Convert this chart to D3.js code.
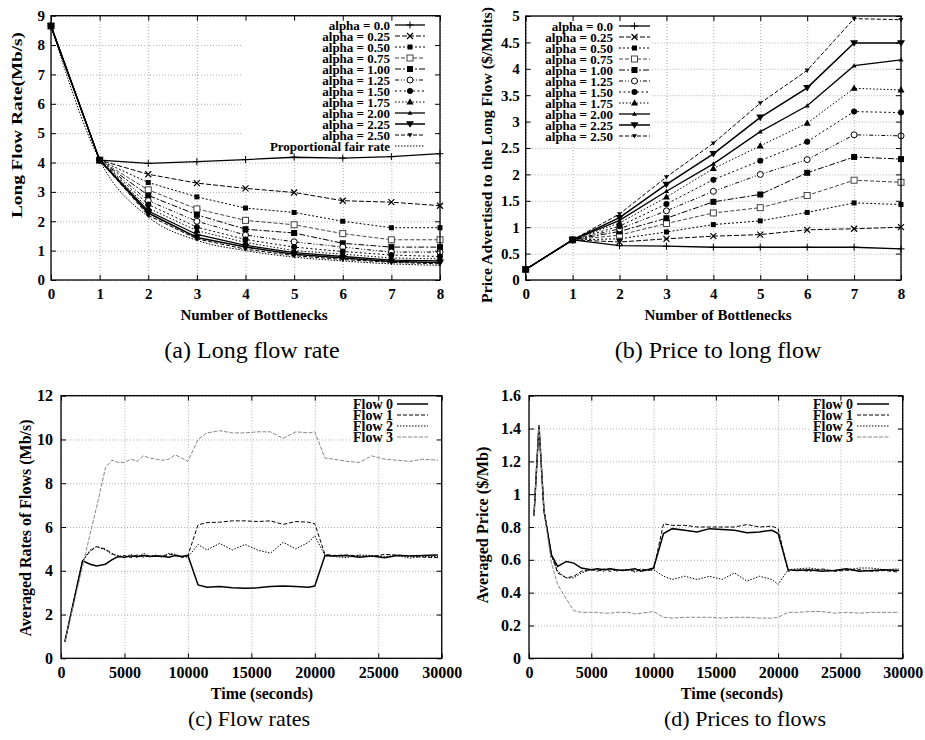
<!DOCTYPE html>
<html>
<head>
<meta charset="utf-8">
<script src="https://cdn.jsdelivr.net/npm/d3@7"></script>
<style>
  body { margin: 0; background: #fff; }
  svg { display: block; font-family: "Liberation Serif", "Times New Roman", serif; }
</style>
</head>
<body>
<svg id="chart" width="925" height="740"></svg>
<script>
// ---- data: panels (a) and (b), x = number of bottlenecks ----
const bottlenecks = [0, 1, 2, 3, 4, 5, 6, 7, 8];
const alphaLabels = ['alpha = 0.0', 'alpha = 0.25', 'alpha = 0.50', 'alpha = 0.75', 'alpha = 1.00',
  'alpha = 1.25', 'alpha = 1.50', 'alpha = 1.75', 'alpha = 2.00', 'alpha = 2.25', 'alpha = 2.50'];
const propFairLabel = 'Proportional fair rate';

// long flow rate (Mb/s)
const rateA000 = [8.65, 4.08, 3.97, 4.03, 4.10, 4.18, 4.15, 4.20, 4.30];
const rateA025 = [8.65, 4.08, 3.60, 3.30, 3.12, 2.98, 2.70, 2.65, 2.53];
const rateA050 = [8.65, 4.08, 3.32, 2.83, 2.45, 2.30, 2.00, 1.78, 1.78];
const rateA075 = [8.65, 4.08, 3.07, 2.42, 2.03, 1.88, 1.58, 1.37, 1.37];
const rateA100 = [8.65, 4.08, 2.88, 2.22, 1.73, 1.60, 1.25, 1.12, 1.12];
const rateA125 = [8.65, 4.08, 2.70, 2.00, 1.53, 1.30, 1.12, 0.95, 0.95];
const rateA150 = [8.65, 4.08, 2.57, 1.80, 1.38, 1.12, 0.97, 0.85, 0.80];
const rateA175 = [8.65, 4.08, 2.45, 1.68, 1.28, 1.00, 0.88, 0.75, 0.72];
const rateA200 = [8.65, 4.08, 2.35, 1.55, 1.18, 0.93, 0.80, 0.68, 0.65];
const rateA225 = [8.65, 4.08, 2.28, 1.45, 1.12, 0.88, 0.75, 0.63, 0.60];
const rateA250 = [8.65, 4.08, 2.20, 1.40, 1.05, 0.83, 0.70, 0.60, 0.55];
const ratePropFair = [8.65, 4.08, 2.15, 1.35, 1.00, 0.78, 0.65, 0.55, 0.50];

// price advertised to the long flow ($/Mbits)
const priceA000 = [0.20, 0.76, 0.65, 0.64, 0.62, 0.62, 0.62, 0.62, 0.59];
const priceA025 = [0.20, 0.76, 0.72, 0.78, 0.83, 0.86, 0.95, 0.97, 1.00];
const priceA050 = [0.20, 0.76, 0.78, 0.91, 1.05, 1.12, 1.28, 1.46, 1.43];
const priceA075 = [0.20, 0.76, 0.85, 1.07, 1.27, 1.37, 1.60, 1.89, 1.85];
const priceA100 = [0.20, 0.76, 0.92, 1.17, 1.48, 1.62, 2.03, 2.33, 2.29];
const priceA125 = [0.20, 0.76, 0.97, 1.31, 1.68, 2.00, 2.28, 2.75, 2.73];
const priceA150 = [0.20, 0.76, 1.02, 1.44, 1.90, 2.26, 2.62, 3.19, 3.17];
const priceA175 = [0.20, 0.76, 1.08, 1.57, 2.11, 2.54, 2.97, 3.63, 3.60];
const priceA200 = [0.20, 0.76, 1.13, 1.68, 2.20, 2.81, 3.30, 4.06, 4.17];
const priceA225 = [0.20, 0.76, 1.18, 1.81, 2.39, 3.08, 3.64, 4.49, 4.49];
const priceA250 = [0.20, 0.76, 1.25, 1.95, 2.59, 3.35, 3.97, 4.95, 4.93];

// ---- data: panel (c), flow rates over time ----
const flowLabels = ['Flow 0', 'Flow 1', 'Flow 2', 'Flow 3'];
const timeC = [300, 1700, 2300, 2800, 3500, 4000, 4500, 5000, 5500, 6000, 6500, 7000, 7500, 8000,
  8500, 9000, 9500, 10000, 10800, 11500, 12500, 13500, 14500, 15500, 16500, 17500, 18500, 19500,
  20000, 20800, 21500, 22500, 23500, 24500, 25500, 26500, 27500, 28500, 29700];
const rateFlow0 = [0.75, 4.45, 4.30, 4.22, 4.30, 4.50, 4.65, 4.62, 4.68, 4.65, 4.70, 4.65, 4.68, 4.66,
  4.62, 4.70, 4.65, 4.70, 3.35, 3.25, 3.28, 3.22, 3.20, 3.22, 3.28, 3.30, 3.28, 3.25,
  3.30, 4.70, 4.68, 4.70, 4.62, 4.68, 4.60, 4.70, 4.68, 4.70, 4.72];
const rateFlow1 = [0.75, 4.45, 4.90, 5.10, 5.00, 4.80, 4.65, 4.70, 4.60, 4.72, 4.62, 4.70, 4.65, 4.68,
  4.75, 4.72, 4.60, 4.70, 6.10, 6.20, 6.22, 6.28, 6.28, 6.25, 6.28, 6.12, 6.25, 6.22,
  6.15, 4.75, 4.70, 4.72, 4.68, 4.65, 4.75, 4.72, 4.68, 4.62, 4.60];
const rateFlow2 = [0.75, 4.45, 4.95, 5.10, 4.95, 4.75, 4.70, 4.60, 4.75, 4.60, 4.80, 4.65, 4.72, 4.60,
  4.80, 4.75, 4.65, 4.62, 5.20, 4.95, 5.25, 4.95, 5.20, 4.95, 4.80, 5.30, 5.00, 5.30,
  5.60, 4.70, 4.65, 4.60, 4.72, 4.70, 4.65, 4.70, 4.58, 4.65, 4.65];
const rateFlow3 = [0.75, 4.20, 5.70, 6.90, 8.70, 9.05, 8.95, 8.95, 9.10, 9.00, 9.25, 9.15, 9.10, 9.05,
  9.10, 9.30, 9.15, 9.00, 10.00, 10.30, 10.40, 10.30, 10.30, 10.35, 10.35, 10.05, 10.35, 10.30,
  10.35, 9.15, 9.10, 9.00, 8.95, 9.25, 9.10, 9.05, 9.00, 9.10, 9.05];

// ---- data: panel (d), prices over time ----
const timeD = [400, 800, 1200, 1800, 2300, 3000, 3600, 4200, 5000, 5500, 6000, 6500, 7000, 7500,
  8000, 8500, 9000, 9500, 10000, 10800, 11500, 12500, 13500, 14500, 15500, 16500, 17500, 18500,
  19500, 20000, 20800, 21500, 22500, 23500, 24500, 25500, 26500, 27500, 28500, 29700];
const priceFlow0 = [0.87, 1.42, 0.90, 0.63, 0.56, 0.59, 0.58, 0.55, 0.54, 0.545, 0.54, 0.545, 0.54, 0.535,
  0.54, 0.545, 0.53, 0.54, 0.55, 0.76, 0.79, 0.78, 0.77, 0.79, 0.785, 0.78, 0.765, 0.77,
  0.78, 0.76, 0.54, 0.535, 0.54, 0.53, 0.535, 0.545, 0.53, 0.535, 0.54, 0.535];
const priceFlow1 = [0.87, 1.42, 0.90, 0.63, 0.52, 0.49, 0.50, 0.53, 0.54, 0.53, 0.545, 0.53, 0.54, 0.535,
  0.54, 0.53, 0.545, 0.535, 0.54, 0.82, 0.81, 0.81, 0.80, 0.80, 0.80, 0.80, 0.815, 0.80,
  0.805, 0.79, 0.53, 0.54, 0.53, 0.545, 0.53, 0.535, 0.54, 0.53, 0.535, 0.525];
const priceFlow2 = [0.87, 1.42, 0.90, 0.63, 0.53, 0.49, 0.49, 0.52, 0.54, 0.54, 0.53, 0.55, 0.53, 0.54,
  0.54, 0.525, 0.54, 0.535, 0.54, 0.50, 0.48, 0.50, 0.48, 0.50, 0.48, 0.52, 0.47, 0.50,
  0.48, 0.45, 0.54, 0.545, 0.55, 0.54, 0.535, 0.54, 0.55, 0.55, 0.54, 0.545];
const priceFlow3 = [0.87, 1.42, 0.90, 0.58, 0.45, 0.36, 0.29, 0.28, 0.28, 0.28, 0.275, 0.275, 0.28, 0.28,
  0.28, 0.27, 0.275, 0.28, 0.285, 0.25, 0.245, 0.25, 0.25, 0.25, 0.245, 0.25, 0.25, 0.245,
  0.245, 0.25, 0.28, 0.28, 0.285, 0.285, 0.275, 0.28, 0.275, 0.28, 0.28, 0.28];

// ---- tick values ----
const ticksBottleneck = [0, 1, 2, 3, 4, 5, 6, 7, 8];
const ticksRateA = [0, 1, 2, 3, 4, 5, 6, 7, 8, 9];
const ticksPriceB = [0, 0.5, 1, 1.5, 2, 2.5, 3, 3.5, 4, 4.5, 5];
const ticksTime = [0, 5000, 10000, 15000, 20000, 25000, 30000];
const ticksRateC = [0, 2, 4, 6, 8, 10, 12];
const ticksPriceD = [0, 0.2, 0.4, 0.6, 0.8, 1, 1.2, 1.4, 1.6];

// ---- styles ----
const alphaStyles = [
  {dash: null, marker: 'plus', width: 1.3},
  {dash: '5,2', marker: 'cross'},
  {dash: '2,2', marker: 'star'},
  {dash: '4,2', marker: 'opensq', color: '#444'},
  {dash: '6,2,2,2', marker: 'sq'},
  {dash: '4,2,1,2,1,2', marker: 'opencircle'},
  {dash: '2,2.5', marker: 'circle'},
  {dash: '1.5,2', marker: 'tri'},
  {dash: null, marker: 'smalltri', width: 1.3},
  {dash: null, marker: 'invtri', width: 1.5},
  {dash: '4,2', marker: 'smallinvtri'}
];
const flowStyles = [
  {dash: null, width: 1.5, color: '#000'},
  {dash: '4,2', width: 1, color: '#000'},
  {dash: '1.5,1.5', width: 1, color: '#000'},
  {dash: '4,1.5', width: 1, color: '#888'}
];

const svg = d3.select('#chart');

function drawMarker(g, type, cx, cy, color) {
  const m = g.append('g').attr('transform', `translate(${cx},${cy})`);
  const c = color || '#000';
  switch (type) {
    case 'plus':
      m.append('path').attr('d', 'M-3.5,0H3.5M0,-3.5V3.5').attr('stroke', c).attr('stroke-width', 1); break;
    case 'cross':
      m.append('path').attr('d', 'M-3,-3L3,3M-3,3L3,-3').attr('stroke', c).attr('stroke-width', 1.2); break;
    case 'star':
      m.append('rect').attr('x', -2.5).attr('y', -2.5).attr('width', 5).attr('height', 5).attr('fill', c); break;
    case 'opensq':
      m.append('rect').attr('x', -3).attr('y', -3).attr('width', 6).attr('height', 6)
        .attr('fill', '#fff').attr('stroke', c).attr('stroke-width', 1); break;
    case 'sq':
      m.append('rect').attr('x', -3).attr('y', -3).attr('width', 6).attr('height', 6).attr('fill', c); break;
    case 'opencircle':
      m.append('circle').attr('r', 3).attr('fill', '#fff').attr('stroke', c).attr('stroke-width', 1); break;
    case 'circle':
      m.append('circle').attr('r', 3).attr('fill', c); break;
    case 'tri':
      m.append('path').attr('d', 'M0,-3.8L3.5,2.5H-3.5Z').attr('fill', c); break;
    case 'smalltri':
      m.append('path').attr('d', 'M0,-2.5L2.5,1.8H-2.5Z').attr('fill', c); break;
    case 'invtri':
      m.append('path').attr('d', 'M0,3.8L4,-2.8H-4Z').attr('fill', c); break;
    case 'smallinvtri':
      m.append('path').attr('d', 'M0,2.5L2.5,-1.8H-2.5Z').attr('fill', c); break;
  }
}

function drawPanel(cfg) {
  const g = svg.append('g');
  const x = d3.scaleLinear().domain(cfg.xDomain).range([cfg.left, cfg.right]);
  const y = d3.scaleLinear().domain(cfg.yDomain).range([cfg.bottom, cfg.top]);
  const w = cfg.right - cfg.left;
  const h = cfg.bottom - cfg.top;

  // grid
  const grid = g.append('g');
  grid.append('g').attr('transform', `translate(0,${cfg.bottom})`)
    .call(d3.axisBottom(x).tickValues(cfg.xTicks).tickSize(-h).tickFormat(''))
    .call(s => s.select('.domain').remove());
  grid.append('g').attr('transform', `translate(${cfg.left},0)`)
    .call(d3.axisLeft(y).tickValues(cfg.yTicks).tickSize(-w).tickFormat(''))
    .call(s => s.select('.domain').remove());
  grid.selectAll('line').attr('stroke', '#999').attr('stroke-width', 0.8).attr('stroke-dasharray', '1,2');

  // legend background hides grid
  g.append('rect')
    .attr('x', cfg.legend.bg[0]).attr('y', cfg.legend.bg[1])
    .attr('width', cfg.legend.bg[2]).attr('height', cfg.legend.bg[3])
    .attr('fill', '#fff');

  // series
  cfg.series.forEach(s => {
    const line = d3.line().x(d => x(d[0])).y(d => y(d[1]));
    if (s.smooth) line.curve(d3.curveMonotoneX);
    const pts = s.xs.map((xv, i) => [xv, s.ys[i]]);
    g.append('path').datum(pts)
      .attr('d', line)
      .attr('fill', 'none')
      .attr('stroke', s.style.color || '#000')
      .attr('stroke-width', s.style.width || 1)
      .attr('stroke-dasharray', s.style.dash);
    if (s.style.marker) {
      pts.forEach(p => drawMarker(g, s.style.marker, x(p[0]), y(p[1]), s.style.color));
    }
  });

  // border
  g.append('rect').attr('x', cfg.left).attr('y', cfg.top).attr('width', w).attr('height', h)
    .attr('fill', 'none').attr('stroke', '#000').attr('stroke-width', 1.3);

  // axes (inward ticks, mirrored)
  const styleTicks = s => {
    s.select('.domain').remove();
    s.selectAll('line').attr('stroke', '#000').attr('stroke-width', 1);
    s.attr('font-family', null).attr('font-size', cfg.tickSize).attr('font-weight', 'bold');
    s.selectAll('text').attr('fill', '#000');
  };
  g.append('g').attr('transform', `translate(0,${cfg.bottom})`)
    .call(d3.axisBottom(x).tickValues(cfg.xTicks).tickSizeInner(-5).tickSizeOuter(0).tickPadding(8)
      .tickFormat(d => String(d)))
    .call(styleTicks);
  g.append('g').attr('transform', `translate(0,${cfg.top})`)
    .call(d3.axisTop(x).tickValues(cfg.xTicks).tickSizeInner(-5).tickSizeOuter(0).tickFormat(''))
    .call(styleTicks);
  g.append('g').attr('transform', `translate(${cfg.left},0)`)
    .call(d3.axisLeft(y).tickValues(cfg.yTicks).tickSizeInner(-5).tickSizeOuter(0).tickPadding(cfg.yPad)
      .tickFormat(d => String(d)))
    .call(styleTicks);
  g.append('g').attr('transform', `translate(${cfg.right},0)`)
    .call(d3.axisRight(y).tickValues(cfg.yTicks).tickSizeInner(-5).tickSizeOuter(0).tickFormat(''))
    .call(styleTicks);

  // axis titles
  g.append('text').attr('x', cfg.xlabel.x).attr('y', cfg.xlabel.y)
    .attr('text-anchor', 'middle').attr('font-weight', 'bold').attr('font-size', cfg.labelSize)
    .text(cfg.xlabel.text);
  g.append('text')
    .attr('transform', `translate(${cfg.ylabel.x},${cfg.ylabel.y}) rotate(-90)`)
    .attr('text-anchor', 'middle').attr('dominant-baseline', 'central')
    .attr('font-weight', 'bold').attr('font-size', cfg.labelSize)
    .attr('textLength', cfg.ylabel.len).attr('lengthAdjust', 'spacingAndGlyphs')
    .text(cfg.ylabel.text);

  // legend
  const L = cfg.legend;
  L.entries.forEach((e, i) => {
    const ry = L.y0 + i * L.dy;
    g.append('text').attr('x', L.textRight).attr('y', ry)
      .attr('text-anchor', 'end').attr('dominant-baseline', 'central')
      .attr('font-weight', 'bold').attr('font-size', L.fontSize)
      .text(e.label);
    g.append('line').attr('x1', L.lineX0).attr('x2', L.lineX1).attr('y1', ry).attr('y2', ry)
      .attr('stroke', e.style.color || '#000')
      .attr('stroke-width', e.style.width || 1)
      .attr('stroke-dasharray', e.style.dash);
    if (e.style.marker) drawMarker(g, e.style.marker, (L.lineX0 + L.lineX1) / 2, ry, e.style.color);
  });

  // caption
  svg.append('text').attr('x', cfg.caption.x).attr('y', cfg.caption.y)
    .attr('text-anchor', 'middle').attr('dominant-baseline', 'central')
    .attr('font-size', cfg.caption.size)
    .text(cfg.caption.text);
}

const rateSeriesA = [rateA000, rateA025, rateA050, rateA075, rateA100, rateA125,
  rateA150, rateA175, rateA200, rateA225, rateA250];
const priceSeriesB = [priceA000, priceA025, priceA050, priceA075, priceA100, priceA125,
  priceA150, priceA175, priceA200, priceA225, priceA250];
const propFairStyle = {dash: '1.5,1.5', width: 1};

// (a)
drawPanel({
  left: 51, right: 440, top: 15.7, bottom: 280,
  xDomain: [0, 8], yDomain: [0, 9], xTicks: ticksBottleneck, yTicks: ticksRateA,
  tickSize: 15, labelSize: 15, yPad: 6,
  series: rateSeriesA.map((ys, i) => ({xs: bottlenecks, ys, style: alphaStyles[i]}))
    .concat([{xs: bottlenecks, ys: ratePropFair, style: propFairStyle, smooth: true}]),
  xlabel: {text: 'Number of Bottlenecks', x: 254, y: 320},
  ylabel: {text: 'Long Flow Rate(Mb/s)', x: 17, y: 125, len: 186},
  legend: {
    bg: [242, 17, 197, 135], textRight: 390, lineX0: 395, lineX1: 425, y0: 25, dy: 11, fontSize: 13,
    entries: alphaLabels.map((label, i) => ({label, style: alphaStyles[i]}))
      .concat([{label: propFairLabel, style: propFairStyle}])
  },
  caption: {text: '(a) Long flow rate', x: 252, y: 350, size: 24}
});

// (b)
drawPanel({
  left: 525.7, right: 901, top: 16, bottom: 280,
  xDomain: [0, 8], yDomain: [0, 5], xTicks: ticksBottleneck, yTicks: ticksPriceB,
  tickSize: 15, labelSize: 15, yPad: 6,
  series: priceSeriesB.map((ys, i) => ({xs: bottlenecks, ys, style: alphaStyles[i]})),
  xlabel: {text: 'Number of Bottlenecks', x: 718, y: 320},
  ylabel: {text: 'Price Advertised to the Long Flow ($/Mbits)', x: 487, y: 155, len: 296},
  legend: {
    bg: [527, 17, 125, 126], textRight: 613, lineX0: 619, lineX1: 650, y0: 26, dy: 11, fontSize: 13,
    entries: alphaLabels.map((label, i) => ({label, style: alphaStyles[i]}))
  },
  caption: {text: '(b) Price to long flow', x: 718, y: 350, size: 24}
});

// (c)
drawPanel({
  left: 61, right: 441.7, top: 395.7, bottom: 658.3,
  xDomain: [0, 30000], yDomain: [0, 12], xTicks: ticksTime, yTicks: ticksRateC,
  tickSize: 16, labelSize: 16, yPad: 8,
  series: [rateFlow0, rateFlow1, rateFlow2, rateFlow3].map((ys, i) => ({xs: timeC, ys, style: flowStyles[i]})),
  xlabel: {text: 'Time (seconds)', x: 262, y: 699},
  ylabel: {text: 'Averaged Rates of Flows (Mb/s)', x: 25, y: 528, len: 217},
  legend: {
    bg: [350, 397, 90, 47], textRight: 393, lineX0: 397, lineX1: 428, y0: 404, dy: 11, fontSize: 14,
    entries: flowLabels.map((label, i) => ({label, style: flowStyles[i]}))
  },
  caption: {text: '(c) Flow rates', x: 249, y: 718, size: 22}
});

// (d)
drawPanel({
  left: 529, right: 902.7, top: 395.7, bottom: 658.3,
  xDomain: [0, 30000], yDomain: [0, 1.6], xTicks: ticksTime, yTicks: ticksPriceD,
  tickSize: 16, labelSize: 16, yPad: 8,
  series: [priceFlow0, priceFlow1, priceFlow2, priceFlow3].map((ys, i) => ({xs: timeD, ys, style: flowStyles[i]})),
  xlabel: {text: 'Time (seconds)', x: 732, y: 699},
  ylabel: {text: 'Averaged Price ($/Mb)', x: 482, y: 525, len: 157},
  legend: {
    bg: [810, 397, 91, 47], textRight: 853, lineX0: 857, lineX1: 889, y0: 404, dy: 11, fontSize: 14,
    entries: flowLabels.map((label, i) => ({label, style: flowStyles[i]}))
  },
  caption: {text: '(d) Prices to flows', x: 745, y: 718, size: 22}
});
</script>
</body>
</html>
